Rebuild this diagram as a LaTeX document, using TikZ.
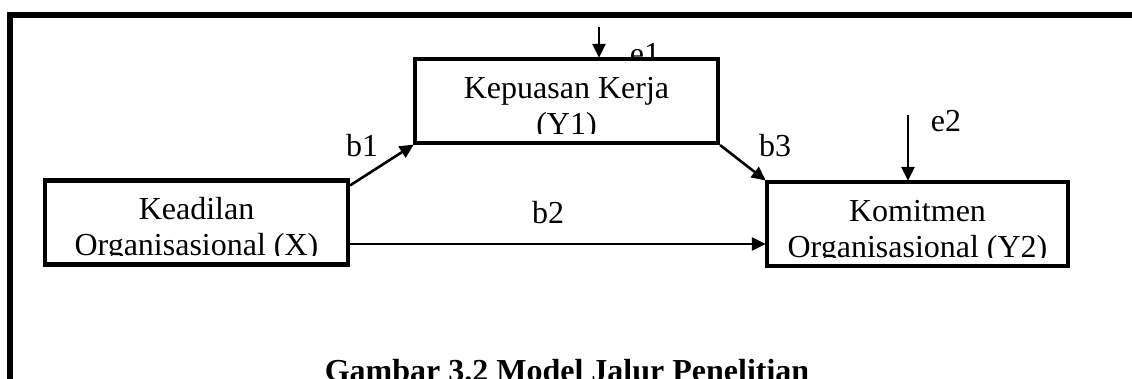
\documentclass[tikz,border=0pt]{standalone}
\usepackage{fontspec}
\setmainfont{Liberation Serif}
\usetikzlibrary{arrows.meta,calc}
\begin{document}
\begin{tikzpicture}[x=1pt,y=-1pt,
  every node/.style={font=\fontsize{32pt}{36pt}\selectfont, inner sep=0pt},
  varbox/.style={draw, fill=white, line width=4.2pt, minimum width=#1, minimum height=84pt},
  txt/.style={anchor=base},
  arr/.style={line width=2.6pt, -{Triangle[length=14pt,width=13pt]}, shorten >=-1pt},
  frameline/.style={line width=6pt}
]
\useasboundingbox (0,0) rectangle (1132,378);
\clip (0,0) rectangle (1132,378);
% frame
\draw[frameline] (9.5,390) -- (9.5,14.5) -- (1140,14.5);
% e1 label (partly hidden behind the box)
\node[txt] (le1) at (645,64) {e1};
% boxes
\node[varbox=303pt] (X) at (196.5,222.5) {};
\node[varbox=303pt] (Y1) at (566.5,101) {};
\node[varbox=301pt] (Y2) at (917.5,224) {};
% box texts (clipped as in the reference)
\begin{scope}
\clip (45,180) rectangle (348,255);
\node[txt] (tX1) at (196.5,219) {Keadilan};
\node[txt] (tX2) at (196.5,255) {Organisasional (X)};
\end{scope}
\begin{scope}
\clip (415,59) rectangle (718,133);
\node[txt] (tY11) at (566.5,98) {Kepuasan Kerja};
\node[txt] (tY12) at (566.5,134) {(Y1)};
\end{scope}
\begin{scope}
\clip (767,182) rectangle (1068,257);
\node[txt] (tY21) at (917.5,221) {Komitmen};
\node[txt] (tY22) at (917.5,257) {Organisasional (Y2)};
\end{scope}
% connectors
\draw[arr] ($(X.north east)+(0,7)$) -- (Y1.south west);
\draw[arr] (Y1.south east) -- (Y2.north west);
\coordinate (b2s) at ($(X.east)+(0,21.5)$);
\draw[arr] (b2s) -- (b2s -| Y2.west);
\coordinate (e1s) at (599,27);
\draw[arr] (e1s) -- (e1s |- Y1.north);
\coordinate (e2s) at (908,115);
\draw[arr] (e2s) -- (e2s |- Y2.north);
% path labels
\node[txt] (lb1) at (362,156) {b1};
\node[txt] (lb2) at (548,223) {b2};
\node[txt] (lb3) at (775,156) {b3};
\node[txt] (le2) at (946,131) {e2};
% caption
\node[txt, font=\fontsize{32pt}{36pt}\selectfont\bfseries] (cap) at (567,381) {Gambar 3.2 Model Jalur Penelitian};
\end{tikzpicture}
\end{document}
